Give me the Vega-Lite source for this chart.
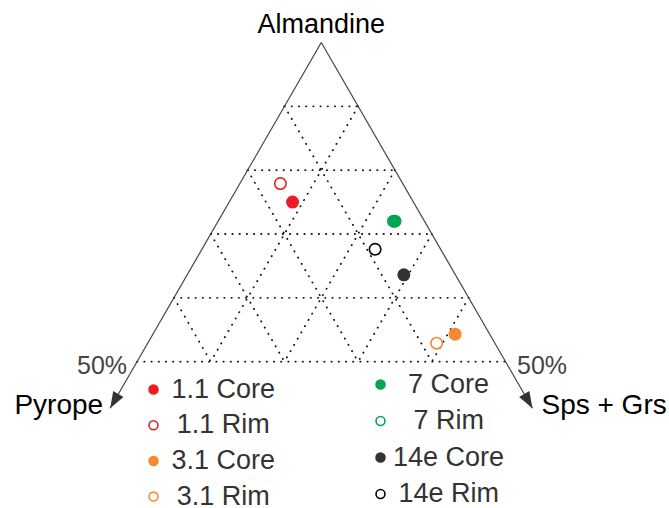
{
  "$schema": "https://vega.github.io/schema/vega-lite/v6.json",
  "width": 669,
  "height": 508,
  "autosize": {"type": "none"},
  "padding": 0,
  "background": "white",
  "config": {
    "view": {"stroke": null},
    "font": "Liberation Sans",
    "legend": {
      "labelFontSize": 27,
      "labelColor": "#333333",
      "labelFont": "Liberation Sans",
      "symbolType": "circle",
      "symbolSize": 80,
      "symbolStrokeWidth": 1.6,
      "rowPadding": 7.7,
      "labelOffset": -1,
      "padding": 0,
      "labelLimit": 300
    }
  },
  "datasets": {
    "grid": [
      {"alm1": 90, "pyr1": 10, "sg1": 0, "alm2": 90, "pyr2": 0, "sg2": 10},
      {"alm1": 80, "pyr1": 20, "sg1": 0, "alm2": 80, "pyr2": 0, "sg2": 20},
      {"alm1": 70, "pyr1": 30, "sg1": 0, "alm2": 70, "pyr2": 0, "sg2": 30},
      {"alm1": 60, "pyr1": 40, "sg1": 0, "alm2": 60, "pyr2": 0, "sg2": 40},
      {"alm1": 50, "pyr1": 50, "sg1": 0, "alm2": 50, "pyr2": 0, "sg2": 50},
      {"alm1": 90, "pyr1": 10, "sg1": 0, "alm2": 50, "pyr2": 10, "sg2": 40},
      {"alm1": 80, "pyr1": 20, "sg1": 0, "alm2": 50, "pyr2": 20, "sg2": 30},
      {"alm1": 70, "pyr1": 30, "sg1": 0, "alm2": 50, "pyr2": 30, "sg2": 20},
      {"alm1": 60, "pyr1": 40, "sg1": 0, "alm2": 50, "pyr2": 40, "sg2": 10},
      {"alm1": 90, "pyr1": 0, "sg1": 10, "alm2": 50, "pyr2": 40, "sg2": 10},
      {"alm1": 80, "pyr1": 0, "sg1": 20, "alm2": 50, "pyr2": 30, "sg2": 20},
      {"alm1": 70, "pyr1": 0, "sg1": 30, "alm2": 50, "pyr2": 20, "sg2": 30},
      {"alm1": 60, "pyr1": 0, "sg1": 40, "alm2": 50, "pyr2": 10, "sg2": 40}
    ],
    "edges": [
      {"alm1": 100, "pyr1": 0, "sg1": 0, "alm2": 42.7, "pyr2": 57.3, "sg2": 0},
      {"alm1": 100, "pyr1": 0, "sg1": 0, "alm2": 42.7, "pyr2": 0, "sg2": 57.3}
    ],
    "garnet": [
      {"sample": "1.1 Rim", "alm": 77.9, "pyr": 16.6, "sg": 5.5},
      {"sample": "1.1 Core", "alm": 75.0, "pyr": 16.4, "sg": 8.6},
      {"sample": "3.1 Rim", "alm": 52.9, "pyr": 7.9, "sg": 39.2},
      {"sample": "3.1 Core", "alm": 54.3, "pyr": 4.7, "sg": 41.0},
      {"sample": "7 Rim", "alm": 72.0, "pyr": 4.2, "sg": 23.8},
      {"sample": "7 Core", "alm": 72.0, "pyr": 4.0, "sg": 24.0},
      {"sample": "14e Rim", "alm": 67.6, "pyr": 8.9, "sg": 23.5},
      {"sample": "14e Core", "alm": 63.6, "pyr": 7.0, "sg": 29.4}
    ]
  },
  "encoding": {
    "x": {"field": "X", "type": "quantitative", "axis": null,
          "scale": {"domain": [6.404, 97.177], "nice": false, "zero": false}},
    "y": {"field": "Y", "type": "quantitative", "axis": null,
          "scale": {"domain": [23.442, 92.370], "nice": false, "zero": false}}
  },
  "layer": [
    {
      "data": {"name": "grid"},
      "transform": [
        {"calculate": "datum.sg1 + datum.alm1 / 2", "as": "X"},
        {"calculate": "datum.alm1 * 0.8660254", "as": "Y"},
        {"calculate": "datum.sg2 + datum.alm2 / 2", "as": "X2"},
        {"calculate": "datum.alm2 * 0.8660254", "as": "Y2"}
      ],
      "mark": {"type": "rule", "color": "#111111", "strokeWidth": 1.8,
               "strokeDash": [0.3, 6.9], "strokeCap": "round"},
      "encoding": {"x2": {"field": "X2"}, "y2": {"field": "Y2"}}
    },
    {
      "data": {"name": "edges"},
      "transform": [
        {"calculate": "datum.sg1 + datum.alm1 / 2", "as": "X"},
        {"calculate": "datum.alm1 * 0.8660254", "as": "Y"},
        {"calculate": "datum.sg2 + datum.alm2 / 2", "as": "X2"},
        {"calculate": "datum.alm2 * 0.8660254", "as": "Y2"}
      ],
      "mark": {"type": "rule", "color": "#444444", "strokeWidth": 1.2},
      "encoding": {"x2": {"field": "X2"}, "y2": {"field": "Y2"}}
    },
    {
      "data": {"values": [{"alm": 42.7, "pyr": 57.3, "sg": 0}]},
      "transform": [
        {"calculate": "datum.sg + datum.alm / 2", "as": "X"},
        {"calculate": "datum.alm * 0.8660254", "as": "Y"}
      ],
      "mark": {"type": "point", "shape": "M0,0 L-0.72,-2 L0.72,-2 Z", "size": 270,
               "filled": true, "color": "#333333", "opacity": 1, "angle": 30}
    },
    {
      "data": {"values": [{"alm": 42.7, "pyr": 0, "sg": 57.3}]},
      "transform": [
        {"calculate": "datum.sg + datum.alm / 2", "as": "X"},
        {"calculate": "datum.alm * 0.8660254", "as": "Y"}
      ],
      "mark": {"type": "point", "shape": "M0,0 L-0.72,-2 L0.72,-2 Z", "size": 270,
               "filled": true, "color": "#333333", "opacity": 1, "angle": 330}
    },
    {
      "data": {"values": [{"label": "Almandine", "alm": 100, "pyr": 0, "sg": 0}]},
      "transform": [
        {"calculate": "datum.sg + datum.alm / 2", "as": "X"},
        {"calculate": "datum.alm * 0.8660254", "as": "Y"}
      ],
      "mark": {"type": "text", "fontSize": 27, "color": "#000000", "align": "center",
               "baseline": "alphabetic", "dy": -9.5},
      "encoding": {"text": {"field": "label"}}
    },
    {
      "data": {"values": [{"label": "Pyrope", "alm": 42.7, "pyr": 57.3, "sg": 0}]},
      "transform": [
        {"calculate": "datum.sg + datum.alm / 2", "as": "X"},
        {"calculate": "datum.alm * 0.8660254", "as": "Y"}
      ],
      "mark": {"type": "text", "fontSize": 28, "color": "#000000", "align": "right",
               "baseline": "alphabetic", "dx": -7, "dy": 6},
      "encoding": {"text": {"field": "label"}}
    },
    {
      "data": {"values": [{"label": "Sps + Grs", "alm": 42.7, "pyr": 0, "sg": 57.3}]},
      "transform": [
        {"calculate": "datum.sg + datum.alm / 2", "as": "X"},
        {"calculate": "datum.alm * 0.8660254", "as": "Y"}
      ],
      "mark": {"type": "text", "fontSize": 28, "color": "#000000", "align": "left",
               "baseline": "alphabetic", "dx": 9, "dy": 6},
      "encoding": {"text": {"field": "label"}}
    },
    {
      "data": {"values": [{"label": "50%", "alm": 50, "pyr": 50, "sg": 0}]},
      "transform": [
        {"calculate": "datum.sg + datum.alm / 2", "as": "X"},
        {"calculate": "datum.alm * 0.8660254", "as": "Y"}
      ],
      "mark": {"type": "text", "fontSize": 25, "color": "#444444", "align": "right",
               "baseline": "alphabetic", "dx": -10, "dy": 12},
      "encoding": {"text": {"field": "label"}}
    },
    {
      "data": {"values": [{"label": "50%", "alm": 50, "pyr": 0, "sg": 50}]},
      "transform": [
        {"calculate": "datum.sg + datum.alm / 2", "as": "X"},
        {"calculate": "datum.alm * 0.8660254", "as": "Y"}
      ],
      "mark": {"type": "text", "fontSize": 25, "color": "#444444", "align": "left",
               "baseline": "alphabetic", "dx": 11.5, "dy": 12},
      "encoding": {"text": {"field": "label"}}
    },
    {
      "data": {"name": "garnet"},
      "transform": [
        {"filter": {"field": "sample", "oneOf": ["1.1 Core", "1.1 Rim", "3.1 Core", "3.1 Rim"]}},
        {"calculate": "datum.sg + datum.alm / 2", "as": "X"},
        {"calculate": "datum.alm * 0.8660254", "as": "Y"}
      ],
      "mark": {"type": "point", "shape": "circle", "size": 130, "strokeWidth": 1.6, "opacity": 1},
      "encoding": {
        "fill": {
          "field": "sample", "type": "nominal",
          "scale": {"domain": ["1.1 Core", "1.1 Rim", "3.1 Core", "3.1 Rim"],
                    "range": ["#ed1c24", "white", "#f58a32", "white"]},
          "legend": {
            "title": null, "orient": "none", "legendX": 140, "legendY": 376,
            "labelExpr": "'\u200b' + (indexof(datum.label, 'Rim') > 0 ? '\u2009\u2009' : '\u2009') + datum.label",
            "encode": {
              "symbols": {"update": {
                "stroke": {"signal": "indexof(datum.value, '1.1') == 0 ? '#ed1c24' : '#f58a32'"},
                "strokeWidth": {"value": 1.6}
              }}
            }
          }
        },
        "stroke": {
          "field": "sample", "type": "nominal", "legend": null,
          "scale": {"domain": ["1.1 Core", "1.1 Rim", "3.1 Core", "3.1 Rim"],
                    "range": ["#ed1c24", "#ed1c24", "#f58a32", "#f58a32"]}
        }
      }
    },
    {
      "data": {"name": "garnet"},
      "transform": [
        {"filter": {"field": "sample", "oneOf": ["7 Core", "7 Rim", "14e Core", "14e Rim"]}},
        {"calculate": "datum.sg + datum.alm / 2", "as": "X"},
        {"calculate": "datum.alm * 0.8660254", "as": "Y"}
      ],
      "mark": {"type": "point", "shape": "circle", "size": 130, "strokeWidth": 1.6, "opacity": 1},
      "encoding": {
        "fill": {
          "field": "sample", "type": "nominal",
          "scale": {"domain": ["7 Core", "7 Rim", "14e Core", "14e Rim"],
                    "range": ["#00a651", "white", "#333333", "white"]},
          "legend": {
            "title": null, "orient": "none", "legendX": 367, "legendY": 371,
            "rowPadding": 8.5,
            "labelExpr": "'\u200b' + (datum.label == '7 Core' ? '\u00a0\u00a0' : datum.label == '7 Rim' ? '\u00a0\u00a0\u2009' : datum.label == '14e Rim' ? '\u2009' : '') + datum.label",
            "encode": {
              "symbols": {"update": {
                "stroke": {"signal": "indexof(datum.value, '7') == 0 ? '#00a651' : datum.value == '14e Core' ? '#333333' : '#000000'"},
                "strokeWidth": {"value": 1.6}
              }}
            }
          }
        },
        "stroke": {
          "field": "sample", "type": "nominal", "legend": null,
          "scale": {"domain": ["7 Core", "7 Rim", "14e Core", "14e Rim"],
                    "range": ["#00a651", "#00a651", "#333333", "#000000"]}
        }
      }
    }
  ],
  "resolve": {
    "scale": {"fill": "independent", "stroke": "independent"},
    "legend": {"fill": "independent", "stroke": "independent"}
  }
}
